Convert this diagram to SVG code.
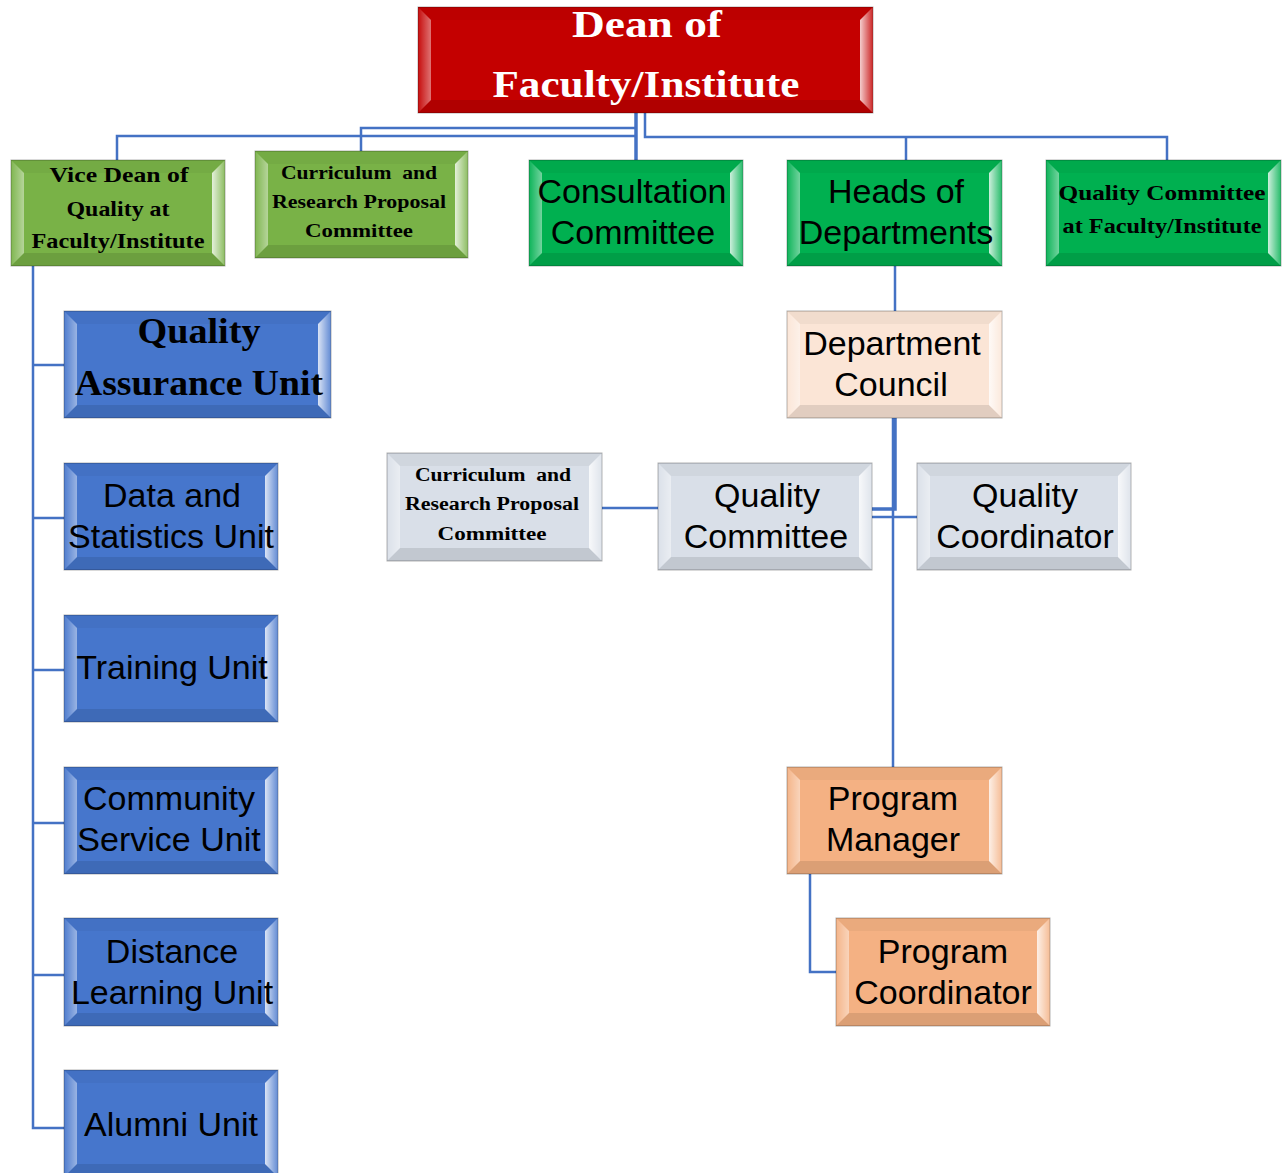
<svg xmlns="http://www.w3.org/2000/svg" width="1288" height="1173" viewBox="0 0 1288 1173">
  <defs>
    <!-- bevel shading for the raised box edges -->
    <linearGradient id="gl" x1="0" y1="0" x2="1" y2="0">
      <stop offset="0" stop-color="#fff" stop-opacity="0.05"/>
      <stop offset="1" stop-color="#fff" stop-opacity="0.45"/>
    </linearGradient>
    <linearGradient id="gr" x1="0" y1="0" x2="1" y2="0">
      <stop offset="0" stop-color="#fff" stop-opacity="0.8"/>
      <stop offset="1" stop-color="#fff" stop-opacity="0.15"/>
    </linearGradient>
  </defs>
  <style>
    .box { stroke: #000; stroke-opacity: 0.3; stroke-width: 1; }
    .red { fill: #C40000; }
    .olive { fill: #79B247; }
    .green { fill: #00B050; }
    .blue { fill: #4676CC; }
    .peach { fill: #FBE5D6; }
    .gray { fill: #D9DFE8; }
    .orange { fill: #F4B183; }
    .top { fill: #000; fill-opacity: 0.04; }
    .bot { fill: #000; fill-opacity: 0.1; }
    .lft { fill: url(#gl); }
    .rgt { fill: url(#gr); }
    .sans { font-family: "Liberation Sans", Arial, sans-serif; font-size: 34px; fill: #000; text-anchor: middle; }
    .serif { font-family: "Liberation Serif", "Times New Roman", serif; font-weight: bold; fill: #000; text-anchor: middle; white-space: pre; }
    .wire { fill: none; stroke: #4472C4; stroke-width: 2.5; }
    .thick { stroke-width: 3.5; }
  </style>

  <!-- connectors -->
  <g id="connectors">
    <path class="wire thick" d="M636,113 V160"/>
    <path class="wire" d="M636,136 H117 V160"/>
    <path class="wire" d="M636,128 H361 V151"/>
    <path class="wire" d="M645,113 V137 H1167 V160"/>
    <path class="wire" d="M906,137 V160"/>
    <path class="wire" d="M895,266 V311"/>
    <path class="wire thick" d="M895,418 V509 H872"/>
    <path class="wire" d="M893,418 V767"/>
    <path class="wire" d="M872,517 H917"/>
    <path class="wire" d="M602,508 H658"/>
    <path class="wire" d="M810,874 V972 H836"/>
    <path class="wire" d="M33,266 V1128 H64"/>
    <path class="wire" d="M33,365 H64 M33,518 H64 M33,670 H64 M33,823 H64 M33,975 H64"/>
  </g>

  <!-- Dean -->
  <g id="dean">
    <rect class="box red" x="418" y="7" width="455" height="106"/>
    <polygon class="top" points="418,7 873,7 860,20 431,20"/>
    <polygon class="bot" points="418,113 873,113 860,100 431,100"/>
    <polygon class="lft" points="418,7 431,20 431,100 418,113"/>
    <polygon class="rgt" points="873,7 860,20 860,100 873,113"/>
    <text class="serif" style="fill:#fff" font-size="38" x="647" y="37" textLength="150" lengthAdjust="spacingAndGlyphs">Dean of</text>
    <text class="serif" style="fill:#fff" font-size="38" x="646" y="97" textLength="307" lengthAdjust="spacingAndGlyphs">Faculty/Institute</text>
  </g>

  <!-- Vice Dean -->
  <g id="vice-dean">
    <rect class="box olive" x="11" y="160" width="214" height="106"/>
    <polygon class="top" points="11,160 225,160 212,173 24,173"/>
    <polygon class="bot" points="11,266 225,266 212,253 24,253"/>
    <polygon class="lft" points="11,160 24,173 24,253 11,266"/>
    <polygon class="rgt" points="225,160 212,173 212,253 225,266"/>
    <text class="serif" font-size="21" x="119" y="182" textLength="139" lengthAdjust="spacingAndGlyphs">Vice Dean of</text>
    <text class="serif" font-size="21" x="118" y="216" textLength="103" lengthAdjust="spacingAndGlyphs">Quality at</text>
    <text class="serif" font-size="21" x="118" y="248" textLength="173" lengthAdjust="spacingAndGlyphs">Faculty/Institute</text>
  </g>

  <!-- Curriculum and Research Proposal Committee (faculty level) -->
  <g id="curriculum-faculty">
    <rect class="box olive" x="255" y="151" width="213" height="107"/>
    <polygon class="top" points="255,151 468,151 455,164 268,164"/>
    <polygon class="bot" points="255,258 468,258 455,245 268,245"/>
    <polygon class="lft" points="255,151 268,164 268,245 255,258"/>
    <polygon class="rgt" points="468,151 455,164 455,245 468,258"/>
    <text class="serif" font-size="18" x="359" y="179" textLength="156" lengthAdjust="spacingAndGlyphs">Curriculum  and</text>
    <text class="serif" font-size="18" x="359" y="208" textLength="174" lengthAdjust="spacingAndGlyphs">Research Proposal</text>
    <text class="serif" font-size="18" x="359" y="237" textLength="108" lengthAdjust="spacingAndGlyphs">Committee</text>
  </g>

  <!-- Consultation Committee -->
  <g id="consultation">
    <rect class="box green" x="529" y="160" width="214" height="106"/>
    <polygon class="top" points="529,160 743,160 730,173 542,173"/>
    <polygon class="bot" points="529,266 743,266 730,253 542,253"/>
    <polygon class="lft" points="529,160 542,173 542,253 529,266"/>
    <polygon class="rgt" points="743,160 730,173 730,253 743,266"/>
    <text class="sans" x="632" y="203">Consultation</text>
    <text class="sans" x="633" y="244">Committee</text>
  </g>

  <!-- Heads of Departments -->
  <g id="heads">
    <rect class="box green" x="787" y="160" width="215" height="106"/>
    <polygon class="top" points="787,160 1002,160 989,173 800,173"/>
    <polygon class="bot" points="787,266 1002,266 989,253 800,253"/>
    <polygon class="lft" points="787,160 800,173 800,253 787,266"/>
    <polygon class="rgt" points="1002,160 989,173 989,253 1002,266"/>
    <text class="sans" x="896" y="203">Heads of</text>
    <text class="sans" x="896" y="244">Departments</text>
  </g>

  <!-- Quality Committee at Faculty/Institute -->
  <g id="quality-committee-faculty">
    <rect class="box green" x="1046" y="160" width="235" height="106"/>
    <polygon class="top" points="1046,160 1281,160 1268,173 1059,173"/>
    <polygon class="bot" points="1046,266 1281,266 1268,253 1059,253"/>
    <polygon class="lft" points="1046,160 1059,173 1059,253 1046,266"/>
    <polygon class="rgt" points="1281,160 1268,173 1268,253 1281,266"/>
    <text class="serif" font-size="21" x="1162" y="200" textLength="207" lengthAdjust="spacingAndGlyphs">Quality Committee</text>
    <text class="serif" font-size="21" x="1162" y="233" textLength="199" lengthAdjust="spacingAndGlyphs">at Faculty/Institute</text>
  </g>

  <!-- Quality Assurance Unit -->
  <g id="qa-unit">
    <rect class="box blue" x="64" y="311" width="267" height="107"/>
    <polygon class="top" points="64,311 331,311 318,324 77,324"/>
    <polygon class="bot" points="64,418 331,418 318,405 77,405"/>
    <polygon class="lft" points="64,311 77,324 77,405 64,418"/>
    <polygon class="rgt" points="331,311 318,324 318,405 331,418"/>
    <text class="serif" font-size="35" x="199" y="343" textLength="123" lengthAdjust="spacingAndGlyphs">Quality</text>
    <text class="serif" font-size="35" x="199" y="395" textLength="248" lengthAdjust="spacingAndGlyphs">Assurance Unit</text>
  </g>

  <!-- Data and Statistics Unit -->
  <g id="data-unit">
    <rect class="box blue" x="64" y="463" width="214" height="107"/>
    <polygon class="top" points="64,463 278,463 265,476 77,476"/>
    <polygon class="bot" points="64,570 278,570 265,557 77,557"/>
    <polygon class="lft" points="64,463 77,476 77,557 64,570"/>
    <polygon class="rgt" points="278,463 265,476 265,557 278,570"/>
    <text class="sans" x="172" y="507">Data and</text>
    <text class="sans" x="171" y="548">Statistics Unit</text>
  </g>

  <!-- Training Unit -->
  <g id="training-unit">
    <rect class="box blue" x="64" y="615" width="214" height="107"/>
    <polygon class="top" points="64,615 278,615 265,628 77,628"/>
    <polygon class="bot" points="64,722 278,722 265,709 77,709"/>
    <polygon class="lft" points="64,615 77,628 77,709 64,722"/>
    <polygon class="rgt" points="278,615 265,628 265,709 278,722"/>
    <text class="sans" x="172" y="679">Training Unit</text>
  </g>

  <!-- Community Service Unit -->
  <g id="community-unit">
    <rect class="box blue" x="64" y="767" width="214" height="107"/>
    <polygon class="top" points="64,767 278,767 265,780 77,780"/>
    <polygon class="bot" points="64,874 278,874 265,861 77,861"/>
    <polygon class="lft" points="64,767 77,780 77,861 64,874"/>
    <polygon class="rgt" points="278,767 265,780 265,861 278,874"/>
    <text class="sans" x="169" y="810">Community</text>
    <text class="sans" x="169" y="851">Service Unit</text>
  </g>

  <!-- Distance Learning Unit -->
  <g id="distance-unit">
    <rect class="box blue" x="64" y="918" width="214" height="108"/>
    <polygon class="top" points="64,918 278,918 265,931 77,931"/>
    <polygon class="bot" points="64,1026 278,1026 265,1013 77,1013"/>
    <polygon class="lft" points="64,918 77,931 77,1013 64,1026"/>
    <polygon class="rgt" points="278,918 265,931 265,1013 278,1026"/>
    <text class="sans" x="172" y="963">Distance</text>
    <text class="sans" x="172" y="1004">Learning Unit</text>
  </g>

  <!-- Alumni Unit -->
  <g id="alumni-unit">
    <rect class="box blue" x="64" y="1070" width="214" height="107"/>
    <polygon class="top" points="64,1070 278,1070 265,1083 77,1083"/>
    <polygon class="bot" points="64,1177 278,1177 265,1164 77,1164"/>
    <polygon class="lft" points="64,1070 77,1083 77,1164 64,1177"/>
    <polygon class="rgt" points="278,1070 265,1083 265,1164 278,1177"/>
    <text class="sans" x="171" y="1136">Alumni Unit</text>
  </g>

  <!-- Department Council -->
  <g id="department-council">
    <rect class="box peach" x="787" y="311" width="215" height="107"/>
    <polygon class="top" points="787,311 1002,311 989,324 800,324"/>
    <polygon class="bot" points="787,418 1002,418 989,405 800,405"/>
    <polygon class="lft" points="787,311 800,324 800,405 787,418"/>
    <polygon class="rgt" points="1002,311 989,324 989,405 1002,418"/>
    <text class="sans" x="892" y="355">Department</text>
    <text class="sans" x="891" y="396">Council</text>
  </g>

  <!-- Curriculum and Research Proposal Committee (department level) -->
  <g id="curriculum-department">
    <rect class="box gray" x="387" y="453" width="215" height="108"/>
    <polygon class="top" points="387,453 602,453 589,466 400,466"/>
    <polygon class="bot" points="387,561 602,561 589,548 400,548"/>
    <polygon class="lft" points="387,453 400,466 400,548 387,561"/>
    <polygon class="rgt" points="602,453 589,466 589,548 602,561"/>
    <text class="serif" font-size="18" x="493" y="481" textLength="156" lengthAdjust="spacingAndGlyphs">Curriculum  and</text>
    <text class="serif" font-size="18" x="492" y="510" textLength="174" lengthAdjust="spacingAndGlyphs">Research Proposal</text>
    <text class="serif" font-size="18" x="492" y="540" textLength="109" lengthAdjust="spacingAndGlyphs">Committee</text>
  </g>

  <!-- Quality Committee -->
  <g id="quality-committee">
    <rect class="box gray" x="658" y="463" width="214" height="107"/>
    <polygon class="top" points="658,463 872,463 859,476 671,476"/>
    <polygon class="bot" points="658,570 872,570 859,557 671,557"/>
    <polygon class="lft" points="658,463 671,476 671,557 658,570"/>
    <polygon class="rgt" points="872,463 859,476 859,557 872,570"/>
    <text class="sans" x="767" y="507">Quality</text>
    <text class="sans" x="766" y="548">Committee</text>
  </g>

  <!-- Quality Coordinator -->
  <g id="quality-coordinator">
    <rect class="box gray" x="917" y="463" width="214" height="107"/>
    <polygon class="top" points="917,463 1131,463 1118,476 930,476"/>
    <polygon class="bot" points="917,570 1131,570 1118,557 930,557"/>
    <polygon class="lft" points="917,463 930,476 930,557 917,570"/>
    <polygon class="rgt" points="1131,463 1118,476 1118,557 1131,570"/>
    <text class="sans" x="1025" y="507">Quality</text>
    <text class="sans" x="1025" y="548">Coordinator</text>
  </g>

  <!-- Program Manager -->
  <g id="program-manager">
    <rect class="box orange" x="787" y="767" width="215" height="107"/>
    <polygon class="top" points="787,767 1002,767 989,780 800,780"/>
    <polygon class="bot" points="787,874 1002,874 989,861 800,861"/>
    <polygon class="lft" points="787,767 800,780 800,861 787,874"/>
    <polygon class="rgt" points="1002,767 989,780 989,861 1002,874"/>
    <text class="sans" x="893" y="810">Program</text>
    <text class="sans" x="893" y="851">Manager</text>
  </g>

  <!-- Program Coordinator -->
  <g id="program-coordinator">
    <rect class="box orange" x="836" y="918" width="214" height="108"/>
    <polygon class="top" points="836,918 1050,918 1037,931 849,931"/>
    <polygon class="bot" points="836,1026 1050,1026 1037,1013 849,1013"/>
    <polygon class="lft" points="836,918 849,931 849,1013 836,1026"/>
    <polygon class="rgt" points="1050,918 1037,931 1037,1013 1050,1026"/>
    <text class="sans" x="943" y="963">Program</text>
    <text class="sans" x="943" y="1004">Coordinator</text>
  </g>
</svg>
